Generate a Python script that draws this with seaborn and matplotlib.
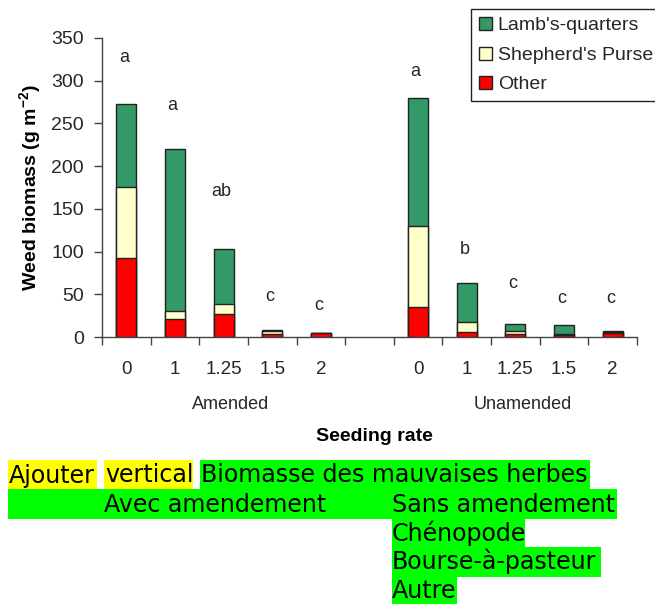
import numpy as np
import pandas as pd
import seaborn as sns
import matplotlib.pyplot as plt
from matplotlib.patches import Patch, Rectangle
from matplotlib.transforms import blended_transform_factory

sns.set_theme(style="white")
plt.rcParams['font.family'] = ['Liberation Sans', 'DejaVu Sans']
plt.rcParams['mathtext.fontset'] = 'custom'
plt.rcParams['mathtext.rm'] = 'Liberation Sans'
plt.rcParams['mathtext.bf'] = 'Liberation Sans:bold'

# data
treatments = ["Amended"] * 5 + ["Unamended"] * 5
rates = ["0", "1", "1.25", "1.5", "2"] * 2
other = [93, 21, 27, 3.5, 5, 35, 6, 3.5, 2, 4.5]
shepherds = [83, 9, 12, 3.5, 0, 95, 11, 3, 1.5, 1]
lambs = [97, 190, 64.5, 0.7, 0, 150, 46, 9, 10.5, 2]
letters = ["a", "a", "ab", "c", "c", "a", "b", "c", "c", "c"]
letter_y = [322, 266, 165, 42, 32, 305, 97, 57, 40, 40]
groups = ["Amended", "Unamended"]

green = "#339966"
yellow = "#FFFFCC"
red = "#FF0000"
edge = "#222222"

df = pd.DataFrame({"treatment": treatments, "rate": rates,
                   "other": other, "shepherds": shepherds, "lambs": lambs})
df["slot"] = df["treatment"] + " " + df["rate"]
df["lower"] = df["other"] + df["shepherds"]
df["total"] = df["lower"] + df["lambs"]

slots = list(df["slot"])
order = slots[:5] + ["gap"] + slots[5:]
tick_labels = rates[:5] + [""] + rates[5:]

fig = plt.figure(figsize=(6.55, 6.04), dpi=100)
ax = fig.add_axes([102 / 655, 1 - 337 / 604, 535 / 655, 299 / 604])

# stacked bars: draw cumulative totals front to back
for col, color in [("total", green), ("lower", yellow), ("other", red)]:
    sns.barplot(data=df, x="slot", y=col, order=order, color=color,
                saturation=1, width=0.41, edgecolor=edge, linewidth=1,
                errorbar=None, ax=ax)

ax.set_ylim(0, 350)
ax.set_xlim(-0.5, len(order) - 0.5)
ax.set_yticks(np.arange(0, 351, 50))
ax.set_xticks(range(len(order)))
ax.set_xticklabels(tick_labels)
ax.set_xticks(np.arange(-0.5, len(order), 1), minor=True)
ax.tick_params(axis="x", which="major", length=0, pad=17, labelsize=13.5)
ax.tick_params(axis="x", which="minor", bottom=True, length=6, width=1,
               direction="out", color="#444444")
ax.tick_params(axis="y", left=True, length=6, width=1, direction="out",
               color="#444444", pad=7, labelsize=14)

for s in ["top", "right"]:
    ax.spines[s].set_visible(False)
for s in ["left", "bottom"]:
    ax.spines[s].set_color("#444444")
    ax.spines[s].set_linewidth(1)

ax.set_ylabel(r"Weed biomass (g m$^{\mathbf{-2}}$)", fontsize=14,
              fontweight="bold", color="black")
ax.yaxis.set_label_coords(-0.108, 0.5)
ax.set_xlabel("Seeding rate", fontsize=14, fontweight="bold", color="black")
ax.xaxis.set_label_coords(0.51, -0.305)

trans = blended_transform_factory(ax.transData, ax.transAxes)
for g, xc in zip(groups, [2.15, 8.15]):
    ax.text(xc, -0.226, g, transform=trans, ha="center", va="center",
            fontsize=13)

for slot, lab, ly in zip(slots, letters, letter_y):
    ax.text(order.index(slot) - 0.05, ly, lab, ha="center", va="baseline",
            fontsize=13)

handles = [Patch(facecolor=green, edgecolor=edge, linewidth=1),
           Patch(facecolor=yellow, edgecolor=edge, linewidth=1),
           Patch(facecolor=red, edgecolor=edge, linewidth=1)]
leg = fig.legend(handles, ["Lamb's-quarters", "Shepherd's Purse", "Other"],
                 loc="upper left", bbox_to_anchor=(471 / 655, 1 - 9 / 604),
                 borderaxespad=0, frameon=True, fancybox=False,
                 edgecolor="#222222", framealpha=1, fontsize=14,
                 handlelength=0.65, handleheight=0.65, handletextpad=0.3,
                 labelspacing=0.62, borderpad=0.42)
leg.get_frame().set_linewidth(1)

# highlighted translation notes under the chart
hl_yellow = "#FFFF00"
hl_green = "#00FF00"
row_top = [460, 489, 518, 547, 575]
row_h = 29.5
boxes = [
    (0, 8, 97, hl_yellow), (0, 104, 193, hl_yellow), (0, 200, 590, hl_green),
    (1, 8, 617, hl_green),
    (2, 392, 525, hl_green), (3, 392, 601, hl_green), (4, 392, 457, hl_green),
]
notes = [
    (0, 9, "Ajouter"), (0, 105, "vertical"),
    (0, 201, "Biomasse des mauvaises herbes"),
    (1, 104, "Avec amendement"), (1, 392, "Sans amendement"),
    (2, 392, "Chénopode"), (3, 392, "Bourse-à-pasteur"), (4, 392, "Autre"),
]
for r, x0, x1, c in boxes:
    fig.add_artist(Rectangle((x0 / 655, 1 - (row_top[r] + row_h) / 604),
                             (x1 - x0) / 655, row_h / 604,
                             transform=fig.transFigure, facecolor=c,
                             edgecolor="none"))
for r, x0, t in notes:
    fig.text(x0 / 655, 1 - (row_top[r] + 22.5) / 604, t, ha="left",
             va="baseline", fontsize=17.1, family=["DejaVu Sans"],
             color="black")

fig.savefig("out.png", dpi=100)
